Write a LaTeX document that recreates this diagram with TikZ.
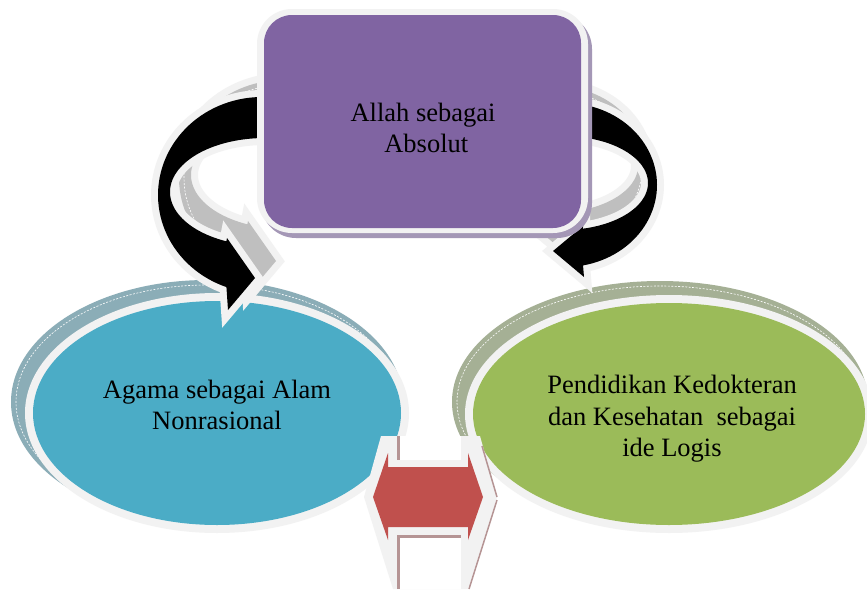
\documentclass[tikz,border=0pt]{standalone}
\usepackage{fontspec}
\setmainfont{Liberation Serif}
\definecolor{wb}{HTML}{F2F2F2}
\definecolor{purp}{HTML}{8064A2}
\definecolor{purpsh}{HTML}{A497B6}
\definecolor{bluec}{HTML}{4BACC6}
\definecolor{bluerim}{HTML}{8BADB7}
\definecolor{greenc}{HTML}{9BBB59}
\definecolor{greenrim}{HTML}{A5B095}
\definecolor{redc}{HTML}{C0504D}
\definecolor{brn}{HTML}{B59494}
\definecolor{grayb}{HTML}{BFBFBF}
\begin{document}
\begin{tikzpicture}[x=1pt,y=-1pt,
  txt/.style={font=\fontsize{26.5}{31.5}\selectfont, align=center, text=black},
  wborder/.style={preaction={draw=wb, line width=14pt, line join=miter, miter limit=6}},
  dashw/.style={draw=white, line width=0.6pt, dash pattern=on 2pt off 1.5pt},
  leftarr/.style={insert path={plot[domain=-80:-250,samples=60,variable=\t] ({262+104*cos(\t)},{195+98*sin(\t)}) -- (228,310) -- (255,278) -- (227,238) -- plot[domain=-246:-80,samples=60,variable=\t] ({265+95*cos(\t)},{192+54*sin(\t)}) -- cycle}},
  rightarr/.style={insert path={plot[domain=-100:78.7,samples=60,variable=\t] ({565+92*cos(\t)},{185+82*sin(\t)}) -- (584,277) -- (553,251) -- (583,226) -- plot[domain=76.4:-100,samples=60,variable=\t] ({563+85*cos(\t)},{183+47*sin(\t)}) -- cycle}},
  redarr/.style={insert path={(373,497) -- (388,453) -- (388,467) -- (468,467) -- (468,453) -- (483,497) -- (468,540) -- (468,527) -- (388,527) -- (388,540) -- cycle}},
]
\useasboundingbox (0,0) rectangle (867,589);
\fill[white] (0,0) rectangle (867,589);

% ---- left ellipse (blue) ----
\fill[bluerim] (207,402) ellipse [x radius=196, y radius=122];
\draw[dashw] (207,402) ellipse [x radius=191, y radius=117];
\fill[wb] (217,413) ellipse [x radius=192, y radius=120];
\fill[bluec] (217,413) ellipse [x radius=184, y radius=112];
\node[txt] (agama) at (217,405) {Agama sebagai Alam\\Nonrasional};

% ---- right ellipse (green) ----
\fill[greenrim] (660,402) ellipse [x radius=208, y radius=121];
\draw[dashw] (660,402) ellipse [x radius=203, y radius=116];
\fill[wb] (669,414) ellipse [x radius=204, y radius=119];
\fill[greenc] (669,414) ellipse [x radius=196, y radius=111];
\node[txt] (pend) at (672,419) {Pendidikan Kedokteran\\dan Kesehatan\ \ sebagai\\ide Logis};

% ---- left curved arrow ----
\begin{scope}[shift={(21,-17)}]
  \path[fill=grayb, wborder, leftarr];
  \draw[dashw] plot[domain=-85:-245,samples=60,variable=\t] ({262+99*cos(\t)},{195+93*sin(\t)});
\end{scope}
\path[fill=black, wborder, leftarr];

% ---- right curved arrow ----
\begin{scope}[shift={(-10,-17)}]
  \path[fill=grayb, wborder, rightarr];
  \draw[dashw] plot[domain=-95:75,samples=60,variable=\t] ({565+87*cos(\t)},{185+77*sin(\t)});
\end{scope}
\path[fill=black, wborder, rightarr];

% ---- top box (purple) ----
\fill[purpsh, rounded corners=35pt] (261,14) rectangle (592,238);
\fill[wb, rounded corners=35pt] (257,9) rectangle (588,233);
\fill[purp, rounded corners=28pt] (264,15) rectangle (581,228);
\node[txt] (allah) at (423,128) {Allah sebagai\\\ Absolut};

% ---- red double arrow with extrusion ----
\fill[wb] (381,436) -- (480,436) -- (497,497) -- (468,589) -- (393,589) -- (364,497) -- cycle;
\fill[white] (400,436) rectangle (461,460);
\draw[brn, line width=2.5pt] (398.5,436) -- (398.5,460);
\fill[white] (400,537) rectangle (461,589);
\draw[brn, line width=2.5pt] (398.5,589) -- (398.5,536.5) -- (461,536.5);
\draw[brn, line width=1.5pt] (497,500) -- (469,589);
\draw[brn, line width=1.5pt] (482,446) -- (497,497);
\path[fill=redc, wborder, redarr];
\end{tikzpicture}
\end{document}
